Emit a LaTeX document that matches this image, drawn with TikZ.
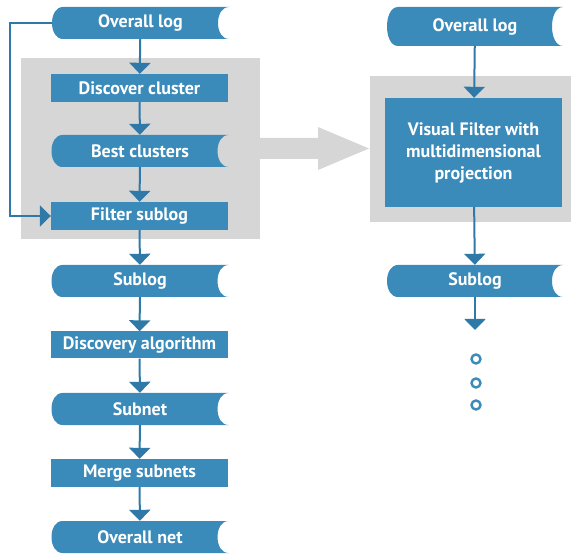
\documentclass[tikz,border=0pt]{standalone}
\usepackage{fontspec}
\setmainfont{PT Sans}
\usetikzlibrary{arrows.meta}
\definecolor{boxblue}{HTML}{3B8BBA}
\definecolor{lineblue}{HTML}{2E79A8}
\definecolor{panelgray}{HTML}{D6D6D6}
\tikzset{
  base/.style={rectangle, inner sep=0pt, text=white, font=\fontsize{18}{22}\selectfont\bfseries, align=center},
  procbox/.style={base, fill=boxblue, minimum width=177pt, minimum height=28pt},
  % stored-data shape: bulging left side, hollowed right side
  datastore/.style={base, minimum width=177pt, minimum height=32pt,
    path picture={
      \fill[boxblue]
        ([xshift=11pt]path picture bounding box.north west)
        .. controls ([xshift=-3.67pt]path picture bounding box.north west)
           and ([xshift=-3.67pt]path picture bounding box.south west) ..
        ([xshift=11pt]path picture bounding box.south west)
        -- (path picture bounding box.south east)
        .. controls ([xshift=-14.67pt]path picture bounding box.south east)
           and ([xshift=-14.67pt]path picture bounding box.north east) ..
        (path picture bounding box.north east) -- cycle;
    }},
  flow/.style={draw=lineblue, line width=2pt, -{Triangle[width=21pt,length=11pt]}},
  panel/.style={fill=panelgray, draw=none},
  dot/.style={circle, draw=boxblue, line width=2.4pt, minimum size=9pt, inner sep=0pt}
}
\begin{document}
\begin{tikzpicture}[x=1pt, y=-1pt]
\useasboundingbox (0,0) rectangle (571,556);

% grey panels and the big transfer arrow
\fill[panelgray] (21,58) rectangle (260,239);
\fill[panelgray] (370,76) rectangle (571,222);
\fill[panelgray] (259,138) -- (318,138) -- (318,127) -- (369,148.5)
  -- (318,170) -- (318,159) -- (259,159) -- cycle;

% left column
\node[datastore] (ol1) at (140.5,23) {Overall log};
\node[procbox] (dc) at (139.5,88) {Discover cluster};
\node[datastore] (bc) at (140,151) {Best clusters};
\node[procbox] (fs) at (139.5,216) {Filter sublog};
\node[datastore] (sl1) at (140,281) {Sublog};
\node[procbox, minimum height=27pt] (da) at (139.5,345) {Discovery algorithm};
\node[datastore] (sn) at (140,409) {Subnet};
\node[procbox] (ms) at (139.5,473) {Merge subnets};
\node[datastore] (on) at (140,537) {Overall net};

\draw[flow] (ol1) -- (dc);
\draw[flow] (dc) -- (bc);
\draw[flow] (bc) -- (fs);
\draw[flow] (fs) -- (sl1);
\draw[flow] (sl1) -- (da);
\draw[flow] (da) -- (sn);
\draw[flow] (sn) -- (ms);
\draw[flow] (ms) -- (on);
\draw[flow] (ol1.west) -- (10,23) |- (fs.west);

% right column
\node[datastore, minimum width=176pt, minimum height=39pt] (ol2) at (475,26.5) {Overall log};
\node[procbox, minimum height=109pt] (vf) at (473.5,152.5) {Visual Filter with\\multidimensional\\projection};
\node[datastore, minimum width=176pt] (sl2) at (475,281) {Sublog};
\coordinate (cont) at (475,330);

\draw[flow] (ol2) -- (vf);
\draw[flow] (vf) -- (sl2);
\draw[flow] (sl2) -- (cont);

\node[dot] (d1) at (476,359) {};
\node[dot] (d2) at (476,383) {};
\node[dot] (d3) at (476,405) {};
\end{tikzpicture}
\end{document}
